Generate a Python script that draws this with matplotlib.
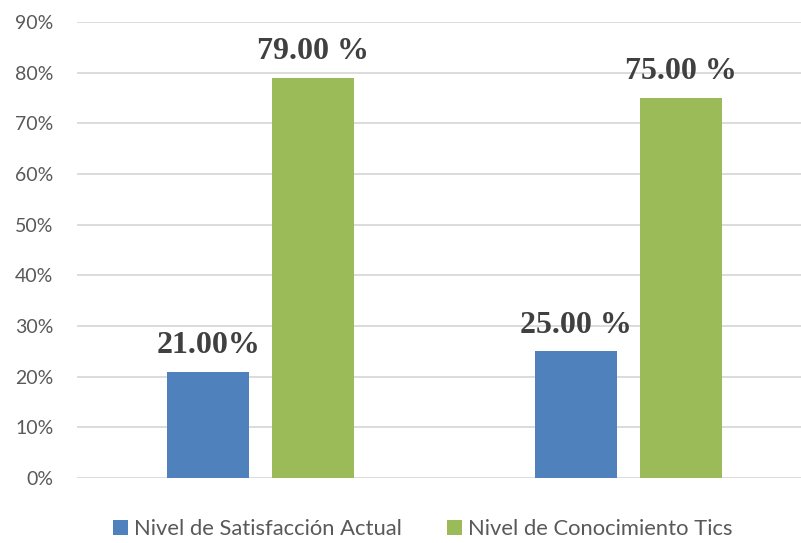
import matplotlib.pyplot as plt
import numpy as np

# valores de cada grupo
grupos = ["Grupo 1", "Grupo 2"]
satisfaccion = [21.0, 25.0]
conocimiento = [79.0, 75.0]
etiquetas_sat = ["21.00%", "25.00 %"]
etiquetas_con = ["79.00 %", "75.00 %"]
yticks = [0, 10, 20, 30, 40, 50, 60, 70, 80, 90]

azul = "#4F81BD"
verde = "#9BBB59"
gris = "#595959"

fig = plt.figure(figsize=(8.01, 5.43), dpi=100)
# el area de trazado se sale un poco por la derecha
ax = fig.add_axes([77 / 801, (543 - 478) / 543, (812.5 - 77) / 801, (478 - 22) / 543])

x = np.arange(len(grupos))
w = 0.223
off = 0.1427
b1 = ax.bar(x - off, satisfaccion, w, color=azul, label="Nivel de Satisfacción Actual", zorder=3)
b2 = ax.bar(x + off, conocimiento, w, color=verde, label="Nivel de Conocimiento Tics", zorder=3)

for barras, textos in ((b1, etiquetas_sat), (b2, etiquetas_con)):
    for b, t in zip(barras, textos):
        ax.annotate(t, (b.get_x() + b.get_width() / 2, b.get_height()),
                    xytext=(0, 13.5), textcoords="offset points",
                    ha="center", va="baseline", fontsize=23, fontweight="bold",
                    family="Liberation Serif", color="#404040")

ax.set_xlim(-0.5, 1.5)
ax.set_ylim(0, 90)
ax.set_yticks(yticks)
ax.set_yticklabels([f"{v}%" for v in yticks], family="Lato", fontsize=14, color=gris)
ax.set_xticks([])
ax.tick_params(axis="y", length=0, pad=17)
ax.yaxis.grid(True, color="#D9D9D9", linewidth=1.3, zorder=0)
for s in ax.spines.values():
    s.set_visible(False)

fig.legend(handles=[b1, b2], loc="center", bbox_to_anchor=(423 / 801, 1 - 529 / 543),
           ncol=2, frameon=False, prop={"family": "Lato", "size": 15.8},
           labelcolor=gris, handlelength=0.68, handleheight=0.68, handletextpad=0.27,
           columnspacing=2.05, borderpad=0, borderaxespad=0)

fig.savefig("out.png", dpi=100)
